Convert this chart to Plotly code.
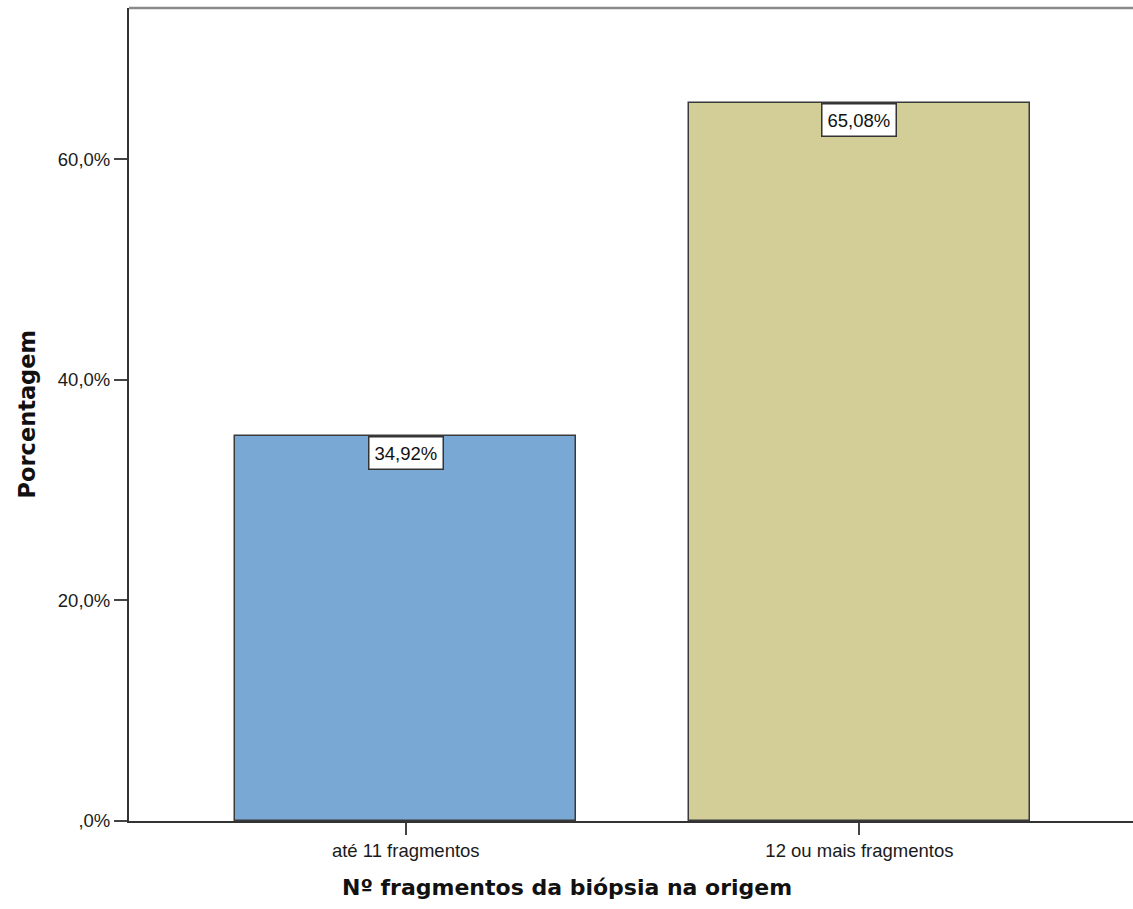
import plotly.graph_objects as go

# Distribution of biopsy fragment counts at origin
categories = ["até 11 fragmentos", "12 ou mais fragmentos"]
percentages = [34.92, 65.08]
bar_colors = ["#7aa8d5", "#d3ce97"]
y_tick_values = [0, 20, 40, 60]
y_tick_labels = [",0%", "20,0%", "40,0%", "60,0%"]

W, H = 1133, 909
ML, MR, MT, MB = 129, 0, 8, 88
PW, PH = W - ML - MR, H - MT - MB

x_pos = list(range(len(categories)))

TICK_FONT = "Liberation Sans, Arial, sans-serif"
TITLE_FONT = "DejaVu Sans, Verdana, sans-serif"


def px_to_paper_x(px):
    return (px - ML) / PW


def px_to_paper_y(py):
    return (H - MB - py) / PH


fig = go.Figure()
fig.add_trace(go.Bar(
    x=x_pos,
    y=percentages,
    width=0.751,
    marker=dict(color=bar_colors, line=dict(color="#3a3a3a", width=1.5)),
    hoverinfo="skip",
    showlegend=False,
))

# value labels boxed at the top of each bar
for xi, v in zip(x_pos, percentages):
    fig.add_annotation(
        x=xi, y=v, xref="x", yref="y",
        text=f"{v:.2f}%".replace(".", ","),
        showarrow=False, yanchor="top", xanchor="center",
        bgcolor="white", bordercolor="#333333", borderwidth=1.5, borderpad=5,
        font=dict(family=TICK_FONT, size=18.5, color="#111111"),
    )

# axis titles
fig.add_annotation(
    x=px_to_paper_x(567), y=px_to_paper_y(887), xref="paper", yref="paper",
    xanchor="center", yanchor="middle", showarrow=False,
    text="Nº fragmentos da biópsia na origem",
    font=dict(family=TITLE_FONT, size=22, color="#111111", weight="bold"),
)
fig.add_annotation(
    x=px_to_paper_x(26), y=0.5, xref="paper", yref="paper",
    xanchor="center", yanchor="middle", showarrow=False, textangle=-90,
    text="Porcentagem",
    font=dict(family=TITLE_FONT, size=22.5, color="#111111", weight="bold"),
)

# top frame line
fig.add_shape(type="line", xref="paper", yref="paper", x0=0, x1=1, y0=1, y1=1,
              line=dict(color="#8a8a8a", width=2.5))

fig.update_layout(
    width=W, height=H,
    margin=dict(l=ML, r=MR, t=MT, b=MB),
    plot_bgcolor="white", paper_bgcolor="white",
    bargap=0,
    xaxis=dict(
        range=[-0.61, 1.603],
        tickvals=x_pos, ticktext=categories,
        ticks="outside", ticklen=12, tickwidth=2, tickcolor="#444444",
        showline=True, linecolor="#333333", linewidth=2,
        showgrid=False, zeroline=False,
        tickfont=dict(family=TICK_FONT, size=18.5, color="#1a1a1a"),
    ),
    yaxis=dict(
        range=[0, 73.7],
        tickvals=y_tick_values, ticktext=y_tick_labels,
        ticks="outside", ticklen=13, tickwidth=2, tickcolor="#444444",
        showline=True, linecolor="#333333", linewidth=2,
        showgrid=False, zeroline=False,
        tickfont=dict(family=TICK_FONT, size=18.5, color="#1a1a1a"),
    ),
)

fig.write_html("out.html")
